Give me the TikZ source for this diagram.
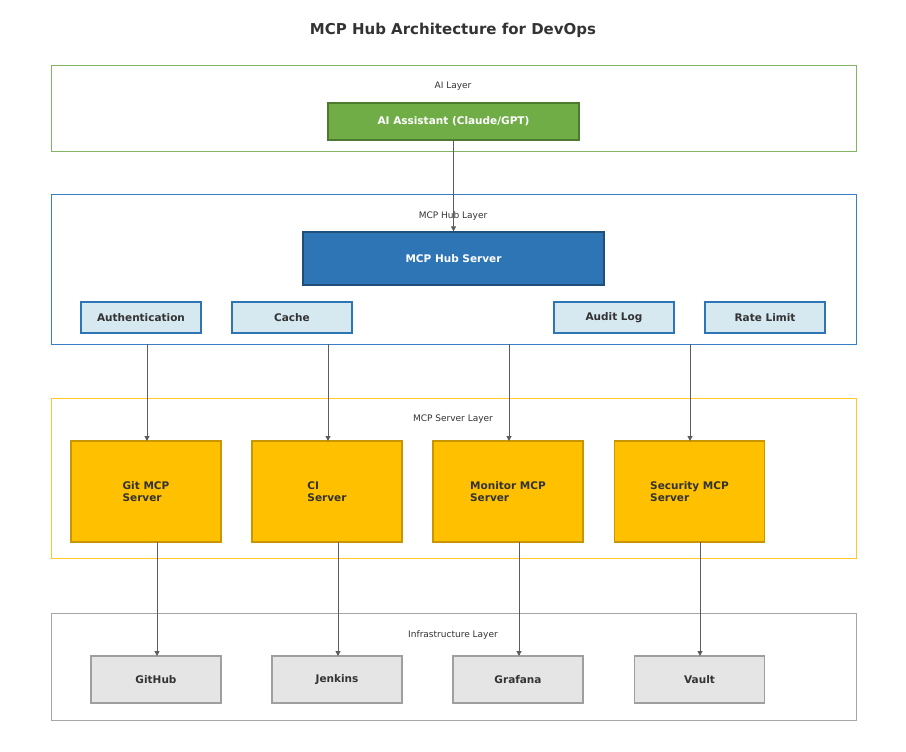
\documentclass[tikz,border=0pt]{standalone}
\usepackage{fontspec}
\setmainfont{DejaVu Sans}
\usetikzlibrary{arrows.meta}
\definecolor{ink}{HTML}{333333}
\definecolor{gline}{HTML}{82B366}
\definecolor{bline}{HTML}{3B7DC4}
\definecolor{yline}{HTML}{FFC828}
\definecolor{aistroke}{HTML}{4D7A2F}
\definecolor{aifill}{HTML}{70AD47}
\definecolor{hubstroke}{HTML}{1F4E79}
\definecolor{hubfill}{HTML}{2E75B6}
\definecolor{smfill}{HTML}{D6E8F0}
\definecolor{srvstroke}{HTML}{C89600}
\definecolor{srvfill}{HTML}{FFC000}
\begin{document}
\begin{tikzpicture}[x=1pt,y=-1pt,
  layer/.style={draw=#1,line width=0.8pt,fill=white},
  lab/.style={font=\fontsize{9}{11}\selectfont,text=ink},
  sm/.style={draw=#1,line width=1.2pt,font=\bfseries\fontsize{10.5}{12}\selectfont,text=ink},
  arr/.style={draw=ink!80,line width=1pt,-{Triangle[length=5pt,width=5pt]}}]
\useasboundingbox (0,0) rectangle (906,752);
\node[font=\bfseries\fontsize{15}{18}\selectfont,text=ink] (title) at (453,30) {MCP Hub Architecture for DevOps};
% layers
\draw[layer=gline] (51,65) rectangle (856,151);
\node[lab] (l1) at (453,86) {AI Layer};
\draw[layer=bline] (51,194) rectangle (856,344);
\node[lab] (l2) at (453,216) {MCP Hub Layer};
\draw[layer=yline] (51,398) rectangle (856,558);
\node[lab] (l3) at (453,419) {MCP Server Layer};
\draw[layer=gray!70] (51,613) rectangle (856,720);
\node[lab] (l4) at (453,635) {Infrastructure Layer};
% AI
\node[sm=aistroke,fill=aifill,text=white,minimum width=251pt,minimum height=37pt,inner sep=0pt] (ai) at (453.5,121.5) {AI Assistant (Claude/GPT)};
\node[sm=hubstroke,fill=hubfill,text=white,minimum width=301pt,minimum height=53pt,inner sep=0pt] (hub) at (453.5,258.5) {MCP Hub Server};
\foreach \n/\x/\t in {auth/141/Authentication,cache/292/Cache,audit/614/Audit Log,rate/765/Rate Limit}
  \node[sm=hubfill,fill=smfill,minimum width=120pt,minimum height=31pt,inner sep=0pt] (\n) at (\x,317.5) {\t};
\draw[arr] (ai.south) -- (hub.north);
% servers
\foreach \n/\x/\t in {git/146/Git MCP,cicd/327/CI/CD MCP,mon/508/Monitor MCP,sec/689.5/Security MCP}
  \node[sm=srvstroke,fill=srvfill,minimum width=150pt,minimum height=101pt,inner sep=0pt,align=left] (\n) at (\x,491.5) {\t\\Server};
\foreach \n/\x/\t in {gh/156/GitHub,jk/337/Jenkins,gf/518/Grafana,vt/699.5/Vault}
  \node[sm=gray!75,fill=gray!20,minimum width=130pt,minimum height=47pt,inner sep=0pt] (\n) at (\x,679.5) {\t};
% connectors
\foreach \c/\x in {a/147,b/328,c/509,d/690}{
  \coordinate (h\c) at (\x,344);
  \coordinate (t\c) at (\x,441);
  \draw[arr] (h\c) -- (t\c);}
\foreach \c/\x in {a/157,b/338,c/519,d/700}{
  \coordinate (o\c) at (\x,542);
  \coordinate (i\c) at (\x,656);
  \draw[arr] (o\c) -- (i\c);}
\end{tikzpicture}
\end{document}
